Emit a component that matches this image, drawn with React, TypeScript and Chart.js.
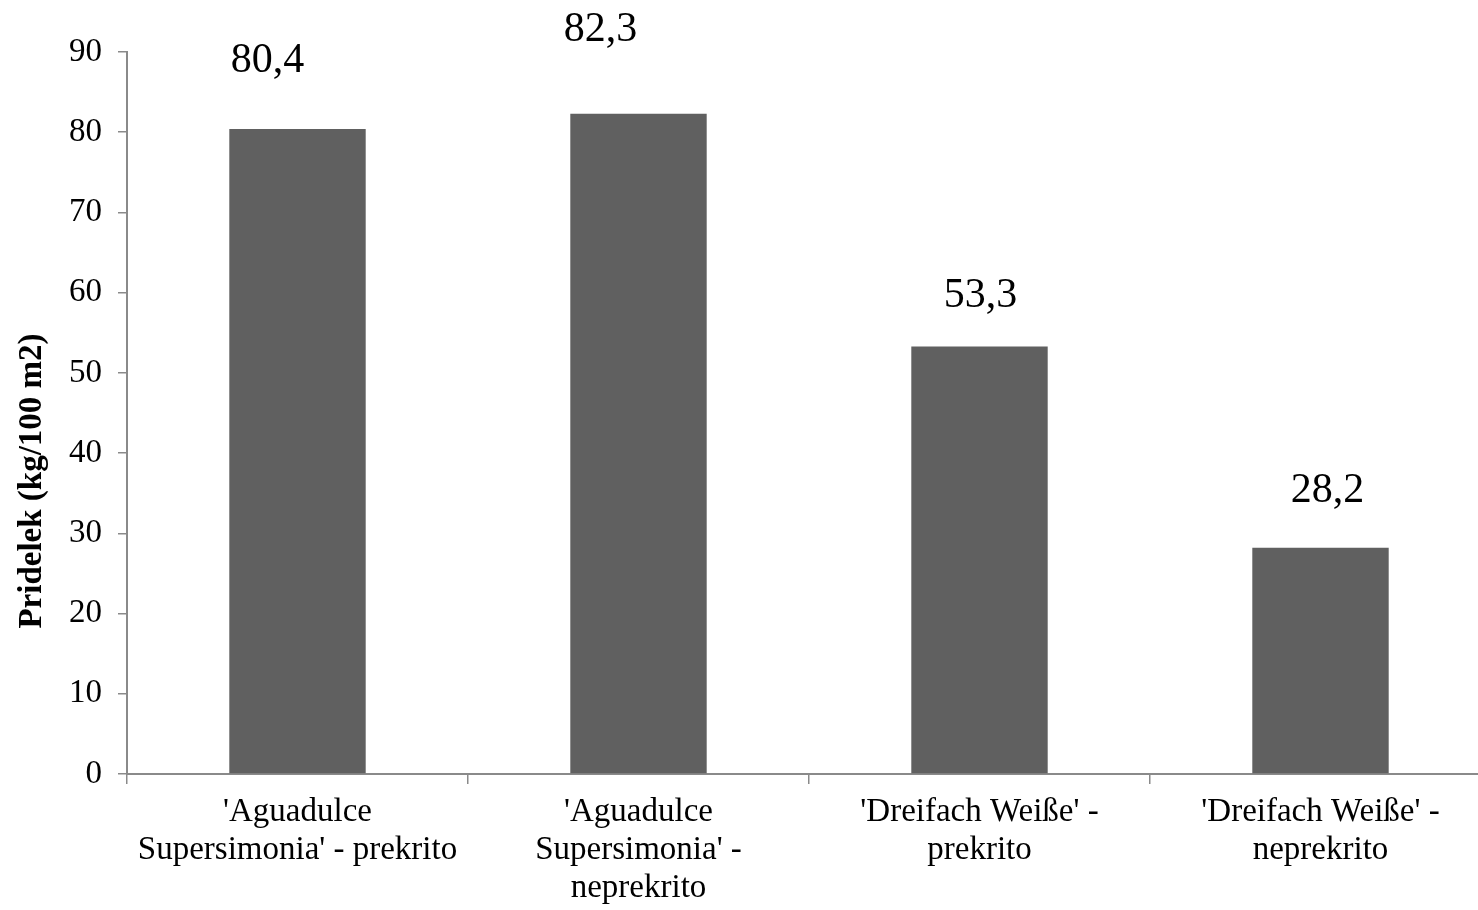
import React, { useEffect, useRef } from "react";
import { Chart, registerables } from "chart.js";

Chart.register(...registerables);

const categories: string[][] = [
  ["'Aguadulce", "Supersimonia' - prekrito"],
  ["'Aguadulce", "Supersimonia' -", "neprekrito"],
  ["'Dreifach Weiße' -", "prekrito"],
  ["'Dreifach Weiße' -", "neprekrito"],
];
const yieldValues: number[] = [80.4, 82.3, 53.3, 28.2];
const valueLabels: string[] = ["80,4", "82,3", "53,3", "28,2"];
const yAxisTitle = "Pridelek (kg/100 m2)";

// style: label offsets (dx, baseline dy) relative to bar top centre
const labelOffsetX = [-30, -38, 1, 7];
const labelOffsetY = [-57, -73, -39, -46];

const SERIF = "'Liberation Serif', 'Times New Roman', serif";

export default function App() {
  const ref = useRef<HTMLCanvasElement | null>(null);
  useEffect(() => {
    if (!ref.current) return;
    const labelPlugin = {
      id: "valueLabels",
      afterDatasetsDraw(chart: any) {
        const ctx = chart.ctx;
        const meta = chart.getDatasetMeta(0);
        ctx.save();
        ctx.fillStyle = "#000";
        ctx.font = `42px ${SERIF}`;
        ctx.textAlign = "center";
        ctx.textBaseline = "alphabetic";
        meta.data.forEach((bar: any, i: number) => {
          ctx.fillText(valueLabels[i], bar.x + labelOffsetX[i], bar.y + labelOffsetY[i]);
        });
        ctx.restore();
        // y-axis title
        const ca = chart.chartArea;
        ctx.save();
        ctx.translate(32, (ca.top + ca.bottom) / 2 + 68);
        ctx.rotate(-Math.PI / 2);
        ctx.font = `bold 33px ${SERIF}`;
        ctx.fillStyle = "#000";
        ctx.textAlign = "center";
        ctx.textBaseline = "middle";
        ctx.fillText(yAxisTitle, 0, 0);
        ctx.restore();
      },
    };
    const chart = new Chart(ref.current, {
      type: "bar",
      data: {
        labels: categories,
        datasets: [
          {
            data: yieldValues,
            backgroundColor: "#606060",
            borderWidth: 0,
            categoryPercentage: 1,
            barPercentage: 0.4,
          },
        ],
      },
      options: {
        responsive: false,
        animation: false,
        layout: { padding: { top: 52, right: 9, left: 0, bottom: 0 } },
        plugins: { legend: { display: false }, tooltip: { enabled: false } },
        scales: {
          x: {
            grid: {
              display: true,
              drawOnChartArea: false,
              drawTicks: true,
              tickLength: 10,
              color: "#8a8a8a",
              lineWidth: 1.5,
              offset: true,
            },
            border: { display: true, color: "#8a8a8a", width: 2 },
            ticks: {
              color: "#000",
              font: { family: SERIF, size: 33, lineHeight: 1.15 },
              padding: 9,
              maxRotation: 0,
              autoSkip: false,
            },
            afterFit(scale: any) {
              scale.height = 136;
            },
          },
          y: {
            min: 0,
            max: 90,
            grid: {
              display: true,
              drawOnChartArea: false,
              drawTicks: true,
              tickLength: 9,
              color: "#8a8a8a",
              lineWidth: 1.5,
            },
            border: { display: true, color: "#8a8a8a", width: 2 },
            ticks: {
              stepSize: 10,
              color: "#000",
              font: { family: SERIF, size: 33 },
              padding: 16,
            },
            afterFit(scale: any) {
              scale.width = 127;
            },
          },
        },
      },
      plugins: [labelPlugin],
    });
    return () => chart.destroy();
  }, []);
  return (
    <div
      style={{
        position: "fixed",
        left: 0,
        top: 0,
        width: 1478,
        height: 910,
        overflow: "hidden",
        background: "#fff",
      }}
    >
      <canvas ref={ref} width={1500} height={910} style={{ display: "block" }} />
    </div>
  );
}
